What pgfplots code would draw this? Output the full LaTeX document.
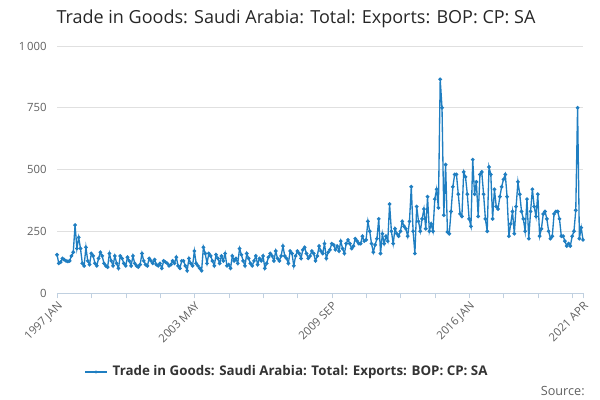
\documentclass[border=0pt]{standalone}
\usepackage{pgfplots}
\pgfplotsset{compat=1.18}
\usepackage{fontspec}
\setmainfont{Open Sans}
\definecolor{ln}{HTML}{1F7EC1}
\definecolor{tx}{HTML}{606060}
\definecolor{ax}{HTML}{C0D0E0}
\begin{document}
\begin{tikzpicture}[x=1pt,y=1pt]
\path[use as bounding box] (0,0) rectangle (450,300);
\node[anchor=center,font=\fontsize{13.5}{16}\selectfont,text=black!85] at (222,286) {Trade in Goods: Saudi Arabia: Total: Exports: BOP: CP: SA};
\begin{axis}[at={(42.75pt,80.25pt)},anchor=south west,scale only axis,
 width=394.5pt,height=185.25pt,
 xmin=0,xmax=291,ymin=0,ymax=1000,
 axis y line*=left, y axis line style={draw=none},
 axis x line*=bottom, x axis line style={ax},
 ytick={0,250,500,750,1000},
 yticklabels={0,250,500,750,1\,000},
 ymajorgrids, grid style={black!12},
 xtick={0,76,152,228,291},
 xticklabels={1997 JAN,2003 MAY,2009 SEP,2016 JAN,2021 APR},
 minor xtick={19,38,57,95,114,133,171,190,209,247,266,285},
 every tick label/.append style={font=\fontsize{8.5}{10}\selectfont,text=tx},
 xticklabel style={rotate=45,anchor=north east,inner sep=1pt},
 /pgf/number format/assume math mode=true,
 tick align=outside,
 xtick style={draw=ax,/pgfplots/major tick length=4pt,/pgfplots/minor tick length=4pt},
 ytick style={draw=none},
 clip=false]
\addplot[ln,line width=1pt,mark=*,mark size=0.85pt] coordinates {
(0,155)(1,120)(2,125)(3,140)(4,135)(5,130)(6,128)(7,130)(8,150)(9,165)(10,275)(11,180)
(12,225)(13,180)(14,120)(15,110)(16,185)(17,130)(18,115)(19,160)(20,150)(21,120)(22,110)(23,140)
(24,165)(25,150)(26,120)(27,110)(28,105)(29,160)(30,130)(31,110)(32,150)(33,120)(34,100)(35,150)
(36,140)(37,120)(38,110)(39,145)(40,130)(41,110)(42,150)(43,120)(44,110)(45,105)(46,115)(47,160)
(48,130)(49,115)(50,110)(51,140)(52,130)(53,120)(54,135)(55,115)(56,110)(57,120)(58,100)(59,130)
(60,125)(61,120)(62,110)(63,115)(64,130)(65,120)(66,145)(67,110)(68,100)(69,130)(70,130)(71,110)
(72,90)(73,140)(74,120)(75,110)(76,170)(77,120)(78,110)(79,100)(80,90)(81,185)(82,160)(83,120)
(84,160)(85,150)(86,130)(87,110)(88,155)(89,140)(90,120)(91,150)(92,130)(93,160)(94,110)(95,115)
(96,100)(97,150)(98,130)(99,140)(100,120)(101,180)(102,155)(103,130)(104,110)(105,160)(106,140)(107,120)
(108,110)(109,130)(110,150)(111,115)(112,140)(113,130)(114,150)(115,100)(116,120)(117,145)(118,160)(119,150)
(120,130)(121,170)(122,140)(123,130)(124,150)(125,190)(126,150)(127,140)(128,120)(129,170)(130,160)(131,110)
(132,150)(133,170)(134,160)(135,140)(136,175)(137,185)(138,160)(139,140)(140,150)(141,170)(142,160)(143,130)
(144,150)(145,190)(146,170)(147,160)(148,200)(149,140)(150,165)(151,175)(152,200)(153,195)(154,175)(155,190)
(156,170)(157,210)(158,180)(159,160)(160,200)(161,215)(162,200)(163,180)(164,190)(165,220)(166,210)(167,200)
(168,200)(169,230)(170,210)(171,215)(172,290)(173,250)(174,200)(175,165)(176,195)(177,220)(178,300)(179,160)
(180,240)(181,200)(182,230)(183,210)(184,360)(185,250)(186,200)(187,260)(188,240)(189,230)(190,250)(191,290)
(192,270)(193,260)(194,230)(195,290)(196,430)(197,250)(198,160)(199,350)(200,290)(201,250)(202,300)(203,340)
(204,260)(205,390)(206,250)(207,280)(208,250)(209,380)(210,420)(211,345)(212,865)(213,750)(214,315)(215,520)
(216,247)(217,240)(218,330)(219,430)(220,480)(221,480)(222,400)(223,320)(224,310)(225,490)(226,470)(227,400)
(228,300)(229,270)(230,540)(231,400)(232,450)(233,310)(234,480)(235,490)(236,400)(237,300)(238,250)(239,510)
(240,480)(241,300)(242,420)(243,350)(244,340)(245,390)(246,430)(247,460)(248,480)(249,390)(250,230)(251,280)
(252,330)(253,240)(254,350)(255,450)(256,400)(257,330)(258,300)(259,250)(260,380)(261,220)(262,330)(263,420)
(264,350)(265,310)(266,400)(267,230)(268,260)(269,320)(270,330)(271,300)(272,250)(273,220)(274,230)(275,320)
(276,330)(277,330)(278,300)(279,230)(280,230)(281,210)(282,190)(283,200)(284,190)(285,230)(286,250)(287,335)
(288,750)(289,220)(290,265)(291,215)
};
\end{axis}
\draw[ln,line width=1pt] (64,21) -- (80,21);
\fill[ln] (72,21) circle (1.3pt);
\node[anchor=west,font=\fontsize{10}{12}\selectfont\bfseries,text=black!80] at (81,21) {Trade in Goods: Saudi Arabia: Total: Exports: BOP: CP: SA};
\node[anchor=east,font=\fontsize{9.5}{11}\selectfont,text=tx] at (442,7) {Source:};
\end{tikzpicture}
\end{document}
